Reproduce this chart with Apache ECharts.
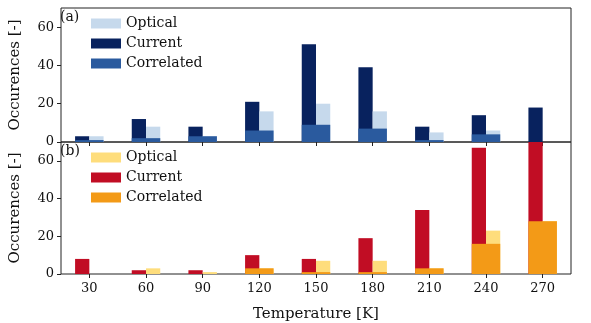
<!DOCTYPE html>
<html>
<head>
    <meta charset="utf-8"/>
    <title>Occurences</title>
    <script src="https://cdn.jsdelivr.net/npm/echarts@6.0.0/dist/echarts.min.js"></script>
</head>
<body style="margin:0">
<div id="chart" style="width: 591px;height:323px;"></div>
<script type="text/javascript">
    var temps = ['30', '60', '90', '120', '150', '180', '210', '240', '270'];
    var yTicks = [0, 20, 40, 60];

    // panel (a)
    var opticalA = [3, 8, 3, 16, 20, 16, 5, 6, 0];
    var currentA = [3, 12, 8, 21, 51, 39, 8, 14, 18];
    var correlatedA = [1, 2, 3, 6, 9, 7, 1, 4, 0];

    // panel (b)
    var opticalB = [0, 3, 1, 3, 7, 7, 3, 23, 28];
    var currentB = [8, 2, 2, 10, 8, 19, 34, 67, 80];
    var correlatedB = [0, 0, 0, 3, 1, 1, 3, 16, 28];

    var font = 'DejaVu Serif';

    function xAxes(grid, labels) {
        return [
            {
                type: 'category', gridIndex: grid, data: temps,
                axisLine: { show: false },
                axisTick: { show: true, alignWithLabel: true, length: 4, lineStyle: { color: '#222' } },
                axisLabel: { show: labels, fontFamily: font, fontSize: 13, color: '#111', margin: 8 },
                name: labels ? 'Temperature [K]' : '', nameLocation: 'middle', nameGap: 33,
                nameTextStyle: { fontFamily: font, fontSize: 15, color: '#111' }
            },
            { type: 'category', gridIndex: grid, data: temps, show: false }
        ];
    }

    function yAxis(grid) {
        return {
            type: 'value', gridIndex: grid, min: 0, max: 70, interval: 10,
            name: 'Occurences [-]', nameLocation: 'middle', nameGap: 38,
            nameTextStyle: { fontFamily: font, fontSize: 15, color: '#111' },
            splitLine: { show: false },
            axisLine: { show: false },
            axisTick: { show: true, length: 4, customValues: yTicks, lineStyle: { color: '#222' } },
            axisLabel: { fontFamily: font, fontSize: 13, color: '#111', customValues: yTicks, margin: 7 }
        };
    }

    function bar(name, data, xi, yi, color, width, z) {
        return {
            name: name, type: 'bar', xAxisIndex: xi, yAxisIndex: yi, data: data,
            barWidth: width, barGap: '0%', z: z, clip: true,
            itemStyle: { color: color }
        };
    }

    var legendBase = {
        orient: 'vertical', left: 86, itemWidth: 30, itemHeight: 10, itemGap: 6, icon: 'rect',
        data: [], textStyle: { fontFamily: font, fontSize: 14, color: '#111' }
    };

    var option = {
        animation: false,
        grid: [
            { left: 58, top: 8, width: 513, height: 134, show: true, borderColor: '#222', borderWidth: 1 },
            { left: 58, top: 142, width: 513, height: 133, show: true, borderColor: '#222', borderWidth: 1 }
        ],
        xAxis: xAxes(0, false).concat(xAxes(1, true)),
        yAxis: [yAxis(0), yAxis(1)],
        legend: [
            Object.assign({}, legendBase, { top: 11.5, data: ['Optical', 'Current', 'Correlated'] }),
            Object.assign({}, legendBase, { top: 145.5, data: ['Optical ', 'Current ', 'Correlated '] })
        ],
        graphic: [
            { type: 'text', left: 60, top: 10, style: { text: '(a)', font: '14px "DejaVu Serif"', fill: '#111' } },
            { type: 'text', left: 60, top: 144, style: { text: '(b)', font: '14px "DejaVu Serif"', fill: '#111' } }
        ],
        series: [
            bar('Current', currentA, 0, 0, '#08225e', 14.25, 2),
            bar('Optical', opticalA, 0, 0, '#c6d9ec', 14.25, 2),
            bar('Correlated', correlatedA, 1, 0, '#2a5a9e', 28.5, 3),
            bar('Current ', currentB, 2, 1, '#c10d24', 14.25, 2),
            bar('Optical ', opticalB, 2, 1, '#fedd7c', 14.25, 2),
            bar('Correlated ', correlatedB, 3, 1, '#f39a17', 28.5, 3)
        ]
    };

    var chart = echarts.init(document.getElementById('chart'));
    chart.setOption(option);
</script>
</body>
</html>
